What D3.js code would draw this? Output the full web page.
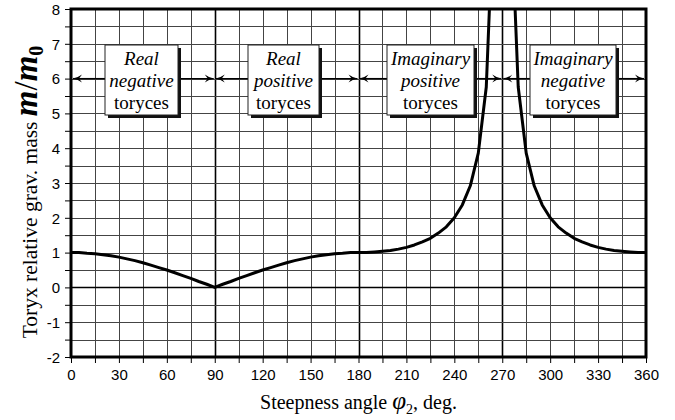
<!DOCTYPE html>
<html>
<head>
<meta charset="utf-8">
<script src="https://cdn.jsdelivr.net/npm/d3@7/dist/d3.min.js"></script>
<style>
  html, body { margin: 0; padding: 0; background: #fff; }
  svg { display: block; }
</style>
</head>
<body>
<svg id="chart" width="675" height="420"></svg>
<script>
// Steepness angle, degrees (sampled every 5°)
const angles = [
  0, 5, 10, 15, 20, 25, 30, 35, 40, 45, 50, 55, 60, 65, 70, 75, 80, 85, 90,
  95, 100, 105, 110, 115, 120, 125, 130, 135, 140, 145, 150, 155, 160, 165, 170, 175, 180,
  185, 190, 195, 200, 205, 210, 215, 220, 225, 230, 235, 240, 245, 250, 255, 260, 265,
  275, 280, 285, 290, 295, 300, 305, 310, 315, 320, 325, 330, 335, 340, 345, 350, 355, 360
];
// Relative gravitational mass m/m0
const massRatio = [
  1.00, 1.00, 0.98, 0.97, 0.94, 0.91, 0.87, 0.82, 0.77, 0.71, 0.64, 0.57, 0.50, 0.42, 0.34, 0.26, 0.17, 0.09, 0.00,
  0.09, 0.17, 0.26, 0.34, 0.42, 0.50, 0.57, 0.64, 0.71, 0.77, 0.82, 0.87, 0.91, 0.94, 0.97, 0.98, 1.00, 1.00,
  1.00, 1.02, 1.04, 1.06, 1.10, 1.15, 1.22, 1.31, 1.41, 1.56, 1.74, 2.00, 2.37, 2.92, 3.86, 5.76, 11.47,
  11.47, 5.76, 3.86, 2.92, 2.37, 2.00, 1.74, 1.56, 1.41, 1.31, 1.22, 1.15, 1.10, 1.06, 1.04, 1.02, 1.00, 1.00
];
// Branch break at the 270° asymptote
const branchSplit = 54;

const xTicks = [0, 30, 60, 90, 120, 150, 180, 210, 240, 270, 300, 330, 360];
const yTicks = [-2, -1, 0, 1, 2, 3, 4, 5, 6, 7, 8];
const xMajor = [90, 180, 270];

// Region annotations: [from°, to°, label lines]
const regionFrom = [0, 90, 180, 270];
const regionTo = [90, 180, 270, 360];
const regionLines = [
  ["Real", "negative", "toryces"],
  ["Real", "positive", "toryces"],
  ["Imaginary", "positive", "toryces"],
  ["Imaginary", "negative", "toryces"]
];
const regionBoxLeft = [105, 248, 387, 530];
const regionBoxRight = [178, 319, 474, 616];
const regionArrowLevel = 6;

const svg = d3.select("#chart");
const m = { left: 71, top: 9, right: 29, bottom: 63 };
const W = 675 - m.left - m.right;
const H = 420 - m.top - m.bottom;

const x = d3.scaleLinear().domain([0, 360]).range([0, W]);
const y = d3.scaleLinear().domain([-2, 8]).range([H, 0]);

const g = svg.append("g").attr("transform", `translate(${m.left},${m.top})`);

// Fine grid: 15° by 0.5
const vGrid = d3.range(15, 360, 15);
const hGrid = d3.range(-1.5, 8, 0.5);
g.append("g").selectAll("line").data(vGrid).join("line")
  .attr("x1", d => Math.round(x(d)) + 0.5).attr("x2", d => Math.round(x(d)) + 0.5)
  .attr("y1", 0).attr("y2", H)
  .attr("stroke", d => xMajor.includes(d) ? "#000" : "#444")
  .attr("stroke-width", d => xMajor.includes(d) ? 1.6 : 1);
g.append("g").selectAll("line").data(hGrid).join("line")
  .attr("y1", d => Math.round(y(d)) + 0.5).attr("y2", d => Math.round(y(d)) + 0.5)
  .attr("x1", 0).attr("x2", W)
  .attr("stroke", d => d === 0 ? "#000" : "#444")
  .attr("stroke-width", d => d === 0 ? 1.6 : 1);

// Axes with tick marks every 15° / 0.5
const xAxis = d3.axisBottom(x).tickValues(d3.range(0, 361, 15)).tickSize(6)
  .tickFormat(d => xTicks.includes(d) ? d : "");
const yAxis = d3.axisLeft(y).tickValues(d3.range(-2, 8.01, 0.5)).tickSize(6)
  .tickFormat(d => yTicks.includes(d) ? d : "");

const gx = g.append("g").attr("transform", `translate(0,${H})`).call(xAxis);
const gy = g.append("g").call(yAxis);
[gx, gy].forEach(a => {
  a.select(".domain").remove();
  a.selectAll(".tick line").attr("stroke", "#000").attr("stroke-width", 1);
  a.selectAll(".tick text").attr("fill", "#000")
    .style("font-family", "'Liberation Sans', Arial, sans-serif")
    .style("font-size", "15px");
});
gx.selectAll(".tick text").attr("y", 12).attr("dy", "0.71em");
gy.selectAll(".tick text").attr("x", -11).attr("dy", "0.35em");

// Curve, clipped to the plot area
svg.append("defs").append("clipPath").attr("id", "plotClip")
  .append("rect").attr("x", 0).attr("y", 0).attr("width", W).attr("height", H);

const pts = angles.map((a, i) => [a, massRatio[i]]);
const branches = [pts.slice(0, branchSplit), pts.slice(branchSplit)];
const line = d3.line().x(d => x(d[0])).y(d => y(d[1]));
g.append("g").attr("clip-path", "url(#plotClip)")
  .selectAll("path").data(branches).join("path")
  .attr("d", line).attr("fill", "none")
  .attr("stroke", "#000").attr("stroke-width", 3)
  .attr("stroke-linejoin", "round");

// Plot frame
g.append("rect").attr("x", 0).attr("y", 0).attr("width", W).attr("height", H)
  .attr("fill", "none").attr("stroke", "#000").attr("stroke-width", 3);

// Region arrows and label boxes
const ay = y(regionArrowLevel);
function arrowHead(tipX, dir) {
  // dir = +1 points right, -1 points left
  const L = 9, w = 4;
  const bx = tipX - dir * L;
  return `M${tipX},${ay} Q${tipX - dir * 5},${ay - 1} ${bx},${ay - w}` +
         `L${tipX - dir * 6},${ay} L${bx},${ay + w} Q${tipX - dir * 5},${ay + 1} ${tipX},${ay}Z`;
}
const boxTop = 45 - m.top, boxBottom = 115 - m.top;
regionFrom.forEach((f, i) => {
  const x0 = x(f) + (f === 0 ? 2 : 1), x1 = x(regionTo[i]) - (regionTo[i] === 360 ? 2 : 1);
  const bl = regionBoxLeft[i] - m.left, br = regionBoxRight[i] - m.left;
  const rg = g.append("g");
  rg.append("line").attr("x1", x0).attr("x2", bl).attr("y1", ay).attr("y2", ay)
    .attr("stroke", "#000").attr("stroke-width", 1.3);
  rg.append("line").attr("x1", br).attr("x2", x1).attr("y1", ay).attr("y2", ay)
    .attr("stroke", "#000").attr("stroke-width", 1.3);
  rg.append("path").attr("d", arrowHead(x0, -1)).attr("fill", "#000");
  rg.append("path").attr("d", arrowHead(x1, 1)).attr("fill", "#000");
  // shadow
  rg.append("rect").attr("x", bl + 3).attr("y", boxTop + 3)
    .attr("width", br - bl).attr("height", boxBottom - boxTop).attr("fill", "#111");
  rg.append("rect").attr("x", bl).attr("y", boxTop)
    .attr("width", br - bl).attr("height", boxBottom - boxTop)
    .attr("fill", "#fff").attr("stroke", "#222").attr("stroke-width", 1);
  const cx = (bl + br) / 2;
  regionLines[i].forEach((t, j) => {
    rg.append("text").attr("x", cx).attr("y", boxTop + 20 + j * 22)
      .attr("text-anchor", "middle")
      .style("font-family", "'Liberation Serif', 'Times New Roman', serif")
      .style("font-size", "19px")
      .style("font-style", j < 2 ? "italic" : "normal")
      .text(t);
  });
});

// X axis title
const xt = svg.append("text").attr("x", m.left + W / 2).attr("y", 409)
  .attr("text-anchor", "middle")
  .style("font-family", "'Liberation Serif', 'Times New Roman', serif")
  .style("font-size", "20px");
xt.append("tspan").text("Steepness angle ");
xt.append("tspan").style("font-style", "italic").style("font-size", "25px").text("φ");
xt.append("tspan").attr("dy", 5).style("font-size", "14px").text("2");
xt.append("tspan").attr("dy", -5).text(", deg.");

// Y axis title
const yt = svg.append("text")
  .attr("transform", `translate(37,${m.top + H / 2 + 9}) rotate(-90)`)
  .attr("text-anchor", "middle")
  .style("font-family", "'Liberation Serif', 'Times New Roman', serif")
  .style("font-size", "21.5px");
yt.append("tspan").text("Toryx relative grav. mass ");
yt.append("tspan").style("font-style", "italic").style("font-weight", "bold").style("font-size", "33px").text("m");
yt.append("tspan").style("font-size", "33px").text("/");
yt.append("tspan").style("font-style", "italic").style("font-weight", "bold").style("font-size", "33px").text("m");
yt.append("tspan").attr("dy", 6).style("font-weight", "bold").style("font-size", "20px").text("0");
</script>
</body>
</html>
